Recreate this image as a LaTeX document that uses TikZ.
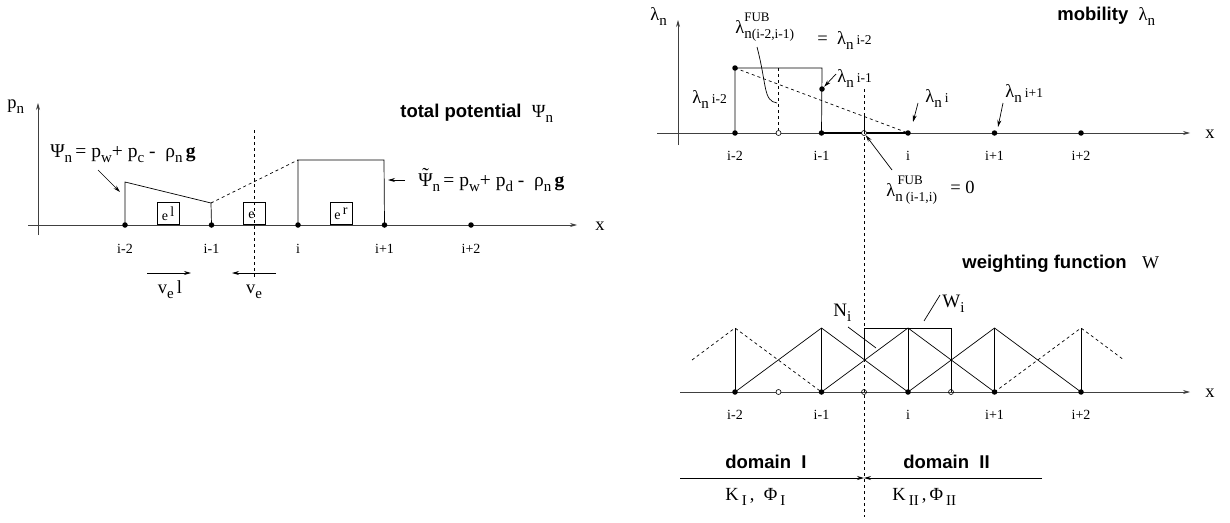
\documentclass[tikz,border=0pt]{standalone}
\usepackage{fontspec}
\setmainfont{Liberation Serif}
\setsansfont{Liberation Sans}
\usetikzlibrary{arrows.meta,positioning}
\newcommand{\fs}[1]{\fontsize{#1}{#1}\selectfont}
\newcommand{\lo}[2][15]{\raisebox{-0.65ex}{\fs{#1}#2}}
\newcommand{\hi}[2][14]{\raisebox{0.75ex}{\fs{#1}#2}}
\newcommand{\tPsi}{\ooalign{Ψ\cr\hidewidth\raisebox{0.22em}{˜}\hidewidth\cr}}

\begin{document}
\begin{tikzpicture}[
  x=1pt, y=-1pt,
  line width=0.7pt,
  >={Stealth[length=7pt,width=4pt]},
  axis/.style={->, draw=black!75},
  dot/.style={circle, fill=black, inner sep=0pt, minimum size=5.5pt},
  odot/.style={circle, draw=black, fill=white, inner sep=0pt, minimum size=5pt, line width=0.6pt},
  idx/.style={font=\fs{14}, anchor=base, inner sep=0pt},
  ttl/.style={font=\fs{18.5}\sffamily\bfseries, anchor=base west, inner sep=0pt},
  txt/.style={font=\fs{18.5}, anchor=base west, inner sep=0pt},
  frm/.style={font=\fs{19.5}, anchor=base west, inner sep=0pt},
  elem/.style={draw, minimum width=22pt, minimum height=22pt, inner sep=0pt, anchor=south, font=\fs{14}},
]
\useasboundingbox (0,0) rectangle (1230,522);

% ---------- total potential ----------
\coordinate (py0) at (38,235);
\coordinate (py1) at (38,103);
\coordinate (px0) at (28,225);
\coordinate (px1) at (577,225);
\draw[axis] (py0) -- (py1);
\draw[axis] (px0) -- (px1);
\node[txt] (pn) at (7,108) {p\lo{n}};
\node[txt, anchor=base] (pxl) at (600,230) {x};
\foreach \k/\lab in {0/i-2,1/i-1,2/i,3/i+1,4/i+2} {
  \node[dot] (l\k) at ({125+86.5*\k},225) {};
  \node[idx] (ll\k) at ({125+86.5*\k},253) {\lab};
}
\coordinate (psiA) at (125,182);
\coordinate (psiB) at (211,203);
\coordinate (psiC) at (298,160);
\coordinate (psiD) at (384,160);
\draw (l0.center) -- (psiA) -- (psiB) -- (l1.center);
\draw[dashed] (psiB) -- (psiC);
\draw (l2.center) -- (psiC) -- (psiD) -- (l3.center);
\node[elem] (el) at (168,225) {e\,\hi{l}};
\node[elem] (ec) at (254.5,225) {e\,\phantom{l}};
\node[elem] (er) at (341,225) {e\,\hi{r}};
\coordinate (cutL0) at (254,130);
\coordinate (cutL1) at (254,278);
\draw[dashed] (cutL0) -- (cutL1);

\node[ttl] (tpot) at (400,117) {total potential\ \ \textmd{\rmfamily\fs{18.5}Ψ\lo{n}}};
\node[frm] (psi) at (50,157) {Ψ\lo{n}\,= p\lo{w}+ p\lo{c} -\ \ ρ\lo{n}\,\textbf{g}};
\coordinate (psiT) at (98,170);
\coordinate (psiH) at (120,192);
\draw[->] (psiT) -- (psiH);
\node[frm] (tpsi) at (418,186) {\tPsi\lo{n}\,= p\lo{w}+ p\lo{d} -\ \ ρ\lo{n}\,\textbf{g}};
\coordinate (tpsiT) at (405,180);
\coordinate (tpsiH) at (388,180);
\draw[->] (tpsiT) -- (tpsiH);

\coordinate (vlA) at (147,273);
\coordinate (vlB) at (191,273);
\coordinate (vcA) at (276,273);
\coordinate (vcB) at (232,273);
\draw[->] (vlA) -- (vlB);
\draw[->] (vcA) -- (vcB);
\node[txt, anchor=base] (vl) at (170,293) {v\lo{e}\,l};
\node[txt, anchor=base] (vc) at (254,293) {v\lo{e}};

% ---------- mobility ----------
\coordinate (my0) at (678,145);
\coordinate (my1) at (678,20);
\coordinate (mx0) at (657,133);
\coordinate (mx1) at (1190,133);
\draw[axis] (my0) -- (my1);
\draw[axis] (mx0) -- (mx1);
\node[txt] (lamax) at (650,20) {λ\lo{n}};
\node[txt, anchor=base] (mxl) at (1210,138) {x};
\node[ttl] (mob) at (1057,20) {mobility\ \ \textmd{\rmfamily\fs{18.5}λ\lo{n}}};
\foreach \k/\lab in {0/i-2,1/i-1,2/i,3/i+1,4/i+2} {
  \node[dot] (r\k) at ({735+86.5*\k},133) {};
  \node[idx] (rl\k) at ({735+86.5*\k},160) {\lab};
}
\draw[line width=1.5pt] (r1.center) -- (r2.center);
\node[dot] (m0) at (735,68) {};
\node[dot] (m1) at (822,89) {};
\coordinate (mTR) at (822,68);
\draw (r0.center) -- (m0.center) -- (mTR) -- (r1.center);
\draw[dashed] (m0.center) -- (r2.center);
\node[odot] (c1) at (778.5,133) {};
\coordinate (c1T) at (778.5,68);
\draw[dashed] (c1T) -- (c1);
\node[odot] (c2) at (864,133) {};
\coordinate (c2T) at (864,116);
\draw (c2T) -- (c2.center);
\coordinate (cut0) at (864,89);
\coordinate (cut1) at (864,517);
\draw[dashed] (cut0) -- (cut1);

\node[txt] (lam0) at (692,103) {λ\lo{n}\,{\fs{13.5}i-2}};
\node[txt] (lam1) at (837,82) {λ\lo{n}\,{\fs{13.5}i-1}};
\node[txt] (lam2) at (925,102) {λ\lo{n}\,{\fs{13.5}i}};
\node[txt] (lam3) at (1005,97) {λ\lo{n}\,{\fs{13.5}i+1}};
\coordinate (a1T) at (836,74);
\coordinate (a2T) at (918,103);
\coordinate (a2H) at (913,122);
\coordinate (a3T) at (1003,103);
\coordinate (a3H) at (998,127);
\draw[->] (a1T) -- (m1);
\draw[->] (a2T) -- (a2H);
\draw[->] (a3T) -- (a3H);

\node[txt] (fubA) at (735,33) {λ\rlap{\raisebox{1.3ex}{\fs{13}FUB}}\lo{n}\lo[13.5]{(i-2,i-1)}};
\node[txt] (fubAeq) at (817,44) {=\ \ λ\lo{n}\,{\fs{13.5}i-2}};
\coordinate (fubAT) at (757,47);
\coordinate (fubAH) at (777,103);
\draw (fubAT) .. controls (767,85) and (763,101) .. (fubAH);
\node[txt] (fubB) at (886,196) {λ\rlap{\raisebox{1.3ex}{\fs{13}\,FUB}}\lo{n}\,\lo[13.5]{(i-1,i)}};
\node[txt] (fubBeq) at (950,193) {= 0};
\coordinate (fubBT) at (892,170);
\draw[->] (fubBT) -- (c2);

% ---------- weighting function ----------
\coordinate (wx0) at (680,392);
\coordinate (wx1) at (1190,392);
\draw[axis] (wx0) -- (wx1);
\node[txt, anchor=base] (wxl) at (1210,397) {x};
\node[ttl] (wgt) at (962,268) {weighting function\ \ \ \textmd{\rmfamily\fs{18}W}};
\foreach \k/\lab in {0/i-2,1/i-1,2/i,3/i+1,4/i+2} {
  \coordinate (p\k) at ({735+86.5*\k},328);
  \draw (p\k) -- ({735+86.5*\k},392);
  \node[dot] (b\k) at ({735+86.5*\k},392) {};
  \node[idx] (bl\k) at ({735+86.5*\k},419) {\lab};
}
\coordinate (hL) at (692,360);
\coordinate (hR) at (1124,360);
\draw[dashed] (hL) -- (p0) -- (b1.center);
\draw (b0.center) -- (p1) -- (b2.center);
\draw (b1.center) -- (p2) -- (b3.center);
\draw (b2.center) -- (p3) -- (b4.center);
\draw[dashed] (b3.center) -- (p4) -- (hR);
\node[odot] (w1) at (778.5,392) {};
\node[odot, fill=none] (w2) at (864,392) {};
\node[odot, fill=none] (w3) at (951,392) {};
\coordinate (wbL) at (864,360);
\coordinate (wbTL) at (864,328);
\coordinate (wbTR) at (951,328);
\draw (wbL) -- (wbTL) -- (wbTR) -- (w3.center);

\node[txt, font=\fs{19}] (ni) at (833,316) {N\lo{i}};
\node[txt, font=\fs{19}] (wi) at (942,307) {W\lo{i}};
\coordinate (niA) at (848,327);
\coordinate (niB) at (876,348);
\coordinate (wiA) at (940,295);
\coordinate (wiB) at (924,321);
\draw (niA) -- (niB);
\draw (wiA) -- (wiB);

% ---------- domains ----------
\node[ttl] (dom1) at (725,468) {domain\ \ I};
\node[ttl] (dom2) at (903,468) {domain\ \ II};
\coordinate (dL) at (680,478);
\coordinate (dM) at (864,478);
\coordinate (dR) at (1042,478);
\draw[->] (dL) -- (dM);
\draw[->] (dR) -- (dM);
\node[txt] (k1) at (725,500) {K\,\lo{I}\,,\ \ Φ\,\lo{I}};
\node[txt] (k2) at (892,500) {K\,\lo{II}\,,\,Φ\,\lo{II}};
\end{tikzpicture}
\end{document}
